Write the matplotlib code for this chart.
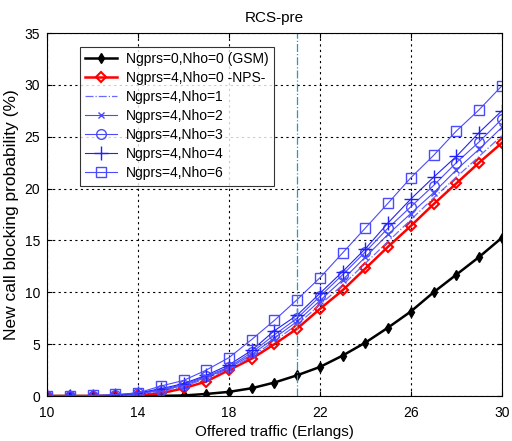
import matplotlib
matplotlib.use("Agg")
import matplotlib.pyplot as plt
import numpy as np

plt.rcParams['font.family'] = ['Liberation Sans', 'DejaVu Sans']

traffic = list(range(10, 31))

gsm = [0, 0, 0, 0, 0, 0.02, 0.05, 0.2, 0.4, 0.75, 1.3, 2.0, 2.8, 3.9, 5.15,
       6.6, 8.15, 10.0, 11.7, 13.4, 15.25]
nps = [0, 0, 0, 0.02, 0.1, 0.26, 0.74, 1.4, 2.5, 3.6, 5.0, 6.5, 8.4, 10.2,
       12.3, 14.4, 16.4, 18.5, 20.5, 22.5, 24.4]
nho1 = [0, 0, 0, 0.03, 0.15, 0.45, 0.9, 1.7, 2.6, 3.8, 5.3, 6.9, 8.8, 10.7,
        12.8, 14.9, 17.0, 19.1, 21.1, 23.1, 25.1]
nho2 = [0, 0, 0, 0.04, 0.2, 0.55, 1.0, 1.8, 2.7, 4.0, 5.6, 7.2, 9.2, 11.2,
        13.4, 15.6, 17.6, 19.6, 21.8, 23.8, 25.9]
nho3 = [0, 0, 0.01, 0.05, 0.25, 0.6, 1.1, 1.9, 2.8, 4.2, 5.9, 7.5, 9.6, 11.7,
        13.9, 16.2, 18.25, 20.3, 22.5, 24.5, 26.7]
nho4 = [0, 0, 0.01, 0.06, 0.3, 0.7, 1.2, 2.0, 3.0, 4.4, 6.3, 7.8, 9.9, 12.0,
        14.2, 16.7, 19.0, 21.1, 23.1, 25.4, 27.5]
nho6 = [0, 0, 0.05, 0.15, 0.3, 0.96, 1.5, 2.5, 3.7, 5.45, 7.3, 9.3, 11.4,
        13.8, 16.2, 18.6, 21.05, 23.2, 25.55, 27.6, 29.9]

labels = ['Ngprs=0,Nho=0 (GSM)', 'Ngprs=4,Nho=0 -NPS-', 'Ngprs=4,Nho=1',
          'Ngprs=4,Nho=2', 'Ngprs=4,Nho=3', 'Ngprs=4,Nho=4', 'Ngprs=4,Nho=6']
marker_traffic = 21

fig = plt.figure(figsize=(5.12, 4.41), dpi=100)
ax = fig.add_axes([0.092, 0.102, 0.888, 0.823])

ax.plot(traffic, gsm, color='black', lw=1.8, marker='d', ms=5,
        mfc='black', mec='black', label=labels[0])
ax.plot(traffic, nps, color='red', lw=1.8, marker='D', ms=5.5,
        mfc='none', mec='red', mew=1.5, label=labels[1])
ax.plot(traffic, nho1, color='#6a6aff', lw=0.9, ls='-.', label=labels[2])
ax.plot(traffic, nho2, color='#4a4aff', lw=0.8, marker='x', ms=5,
        label=labels[3])
ax.plot(traffic, nho3, color='#4a4aff', lw=0.8, marker='o', ms=7,
        mfc='none', label=labels[4])
ax.plot(traffic, nho4, color='#2020ff', lw=0.8, marker='+', ms=10,
        label=labels[5])
ax.plot(traffic, nho6, color='#4a4aff', lw=0.8, marker='s', ms=7.5,
        mfc='none', label=labels[6])

ax.axvline(marker_traffic, color='#20a0b0', lw=0.9, ls='-.')

ax.set_xlim(10, 30)
ax.set_ylim(0, 35)
ax.set_xticks([10, 14, 18, 22, 26, 30])
ax.set_yticks(range(0, 36, 5))
ax.grid(True, color='black', ls=(0, (2, 3)), lw=0.8)
ax.tick_params(direction='in', labelsize=10, top=True, right=True)
ax.tick_params(axis='x', pad=7)
ax.tick_params(axis='y', pad=5)
for s in ax.spines.values():
    s.set_linewidth(0.8)

ax.set_title('RCS-pre', fontsize=11, pad=8)
ax.set_xlabel('Offered traffic (Erlangs)', fontsize=11, labelpad=4)
ax.set_ylabel('New call blocking probability (%)', fontsize=12.5,
              labelpad=4)

leg = ax.legend(loc='upper left', bbox_to_anchor=(0.072, 0.963),
                fontsize=10, frameon=True, fancybox=False,
                edgecolor='black', handlelength=2.3, borderpad=0.4,
                labelspacing=0.36, handletextpad=0.6, borderaxespad=0)
leg.get_frame().set_linewidth(0.8)

fig.savefig('out.png', dpi=100)
